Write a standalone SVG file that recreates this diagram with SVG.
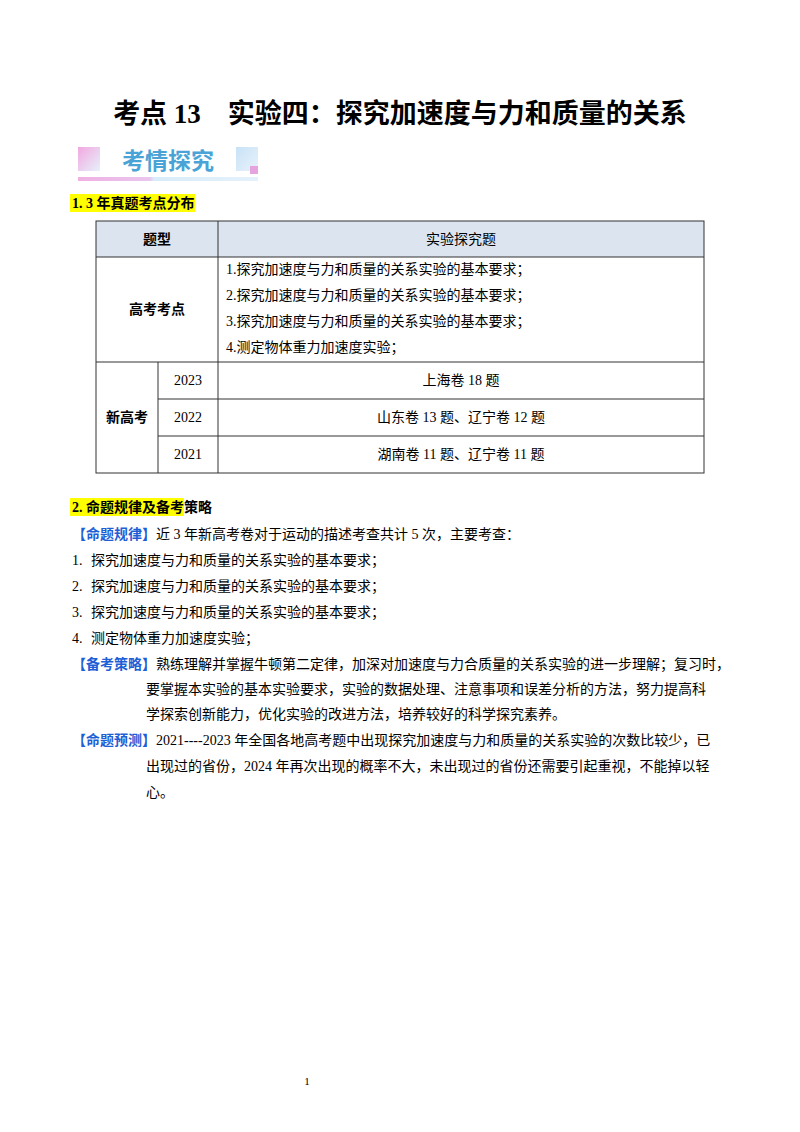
<svg xmlns="http://www.w3.org/2000/svg" width="800" height="1132" viewBox="0 0 800 1132">
<defs>
<linearGradient id="gl" x1="0" y1="0" x2="1" y2="1"><stop offset="0" stop-color="#f2a8e0"/><stop offset="1" stop-color="#e6f1fb"/></linearGradient>
<linearGradient id="gr" x1="0" y1="0" x2="1" y2="1"><stop offset="0" stop-color="#c8e2f7"/><stop offset="1" stop-color="#e8f2fb"/></linearGradient>
<linearGradient id="gb" x1="0" y1="0" x2="1" y2="0"><stop offset="0" stop-color="#f0b0e2"/><stop offset="0.4" stop-color="#e9c6ee"/><stop offset="0.42" stop-color="#d8ecf9"/><stop offset="1" stop-color="#e4f1fb"/></linearGradient>
</defs>
<style>
text{font-family:"Liberation Serif","Noto Sans CJK SC",serif;font-size:14px;fill:#000}
.b{font-weight:bold}
.c{text-anchor:middle}
.bl{fill:#1f5fd6;font-weight:bold}
line{stroke:#333;stroke-width:1}
</style>
<rect width="800" height="1132" fill="#fff"/>
<text x="400" y="123" class="c b" style="font-size:27px">考点 13　实验四：探究加速度与力和质量的关系</text>
<g id="banner">
<rect x="78" y="147" width="22" height="24" fill="url(#gl)"/>
<rect x="236" y="147" width="22" height="24" fill="url(#gr)"/>
<rect x="250" y="166" width="8" height="8" fill="#e6a4df"/>
<rect x="78" y="177" width="180" height="4" fill="url(#gb)"/>
<text x="168" y="169" class="c b" style="font-family:'Noto Sans CJK SC',sans-serif;font-size:23px;fill:#4aa3d6">考情探究</text>
</g>
<rect x="70" y="194" width="125" height="18" fill="#ffff00"/>
<text x="72" y="208" class="b">1. 3 年真题考点分布</text>
<g id="table">
<rect x="96" y="221" width="608" height="36" fill="#dce4ef"/>
<rect x="96" y="221" width="608" height="252" fill="none" stroke="#333"/>
<line x1="96" y1="257" x2="704" y2="257"/>
<line x1="96" y1="362" x2="704" y2="362"/>
<line x1="158" y1="399" x2="704" y2="399"/>
<line x1="158" y1="436" x2="704" y2="436"/>
<line x1="218" y1="221" x2="218" y2="473"/>
<line x1="158" y1="362" x2="158" y2="473"/>
<text x="157" y="244" class="c b">题型</text>
<text x="461" y="244" class="c">实验探究题</text>
<text x="157" y="314" class="c b">高考考点</text>
<text x="226" y="274">1.探究加速度与力和质量的关系实验的基本要求；</text>
<text x="226" y="300">2.探究加速度与力和质量的关系实验的基本要求；</text>
<text x="226" y="326">3.探究加速度与力和质量的关系实验的基本要求；</text>
<text x="226" y="352">4.测定物体重力加速度实验；</text>
<text x="127" y="422" class="c b">新高考</text>
<text x="188" y="385" class="c">2023</text>
<text x="188" y="422" class="c">2022</text>
<text x="188" y="459" class="c">2021</text>
<text x="461" y="385" class="c">上海卷 18 题</text>
<text x="461" y="422" class="c">山东卷 13 题、辽宁卷 12 题</text>
<text x="461" y="459" class="c">湖南卷 11 题、辽宁卷 11 题</text>
</g>
<rect x="70" y="498" width="114" height="18" fill="#ffff00"/>
<text x="72" y="512" class="b">2. 命题规律及备考策略</text>
<text x="72" y="539"><tspan class="bl">【命题规律】</tspan>近 3 年新高考卷对于运动的描述考查共计 5 次，主要考查：</text>
<text x="72" y="565">1.<tspan x="91">探究加速度与力和质量的关系实验的基本要求；</tspan></text>
<text x="72" y="591">2.<tspan x="91">探究加速度与力和质量的关系实验的基本要求；</tspan></text>
<text x="72" y="617">3.<tspan x="91">探究加速度与力和质量的关系实验的基本要求；</tspan></text>
<text x="72" y="643">4.<tspan x="91">测定物体重力加速度实验；</tspan></text>
<text x="72" y="669"><tspan class="bl">【备考策略】</tspan>熟练理解并掌握牛顿第二定律，加深对加速度与力合质量的关系实验的进一步理解；复习时，</text>
<text x="146" y="694">要掌握本实验的基本实验要求，实验的数据处理、注意事项和误差分析的方法，努力提高科</text>
<text x="146" y="719">学探索创新能力，优化实验的改进方法，培养较好的科学探究素养。</text>
<text x="72" y="745"><tspan class="bl">【命题预测】</tspan>2021----2023 年全国各地高考题中出现探究加速度与力和质量的关系实验的次数比较少，已</text>
<text x="146" y="771">出现过的省份，2024 年再次出现的概率不大，未出现过的省份还需要引起重视，不能掉以轻</text>
<text x="146" y="797">心。</text>
<text x="307" y="1085" class="c" style="font-size:11px">1</text>
</svg>
